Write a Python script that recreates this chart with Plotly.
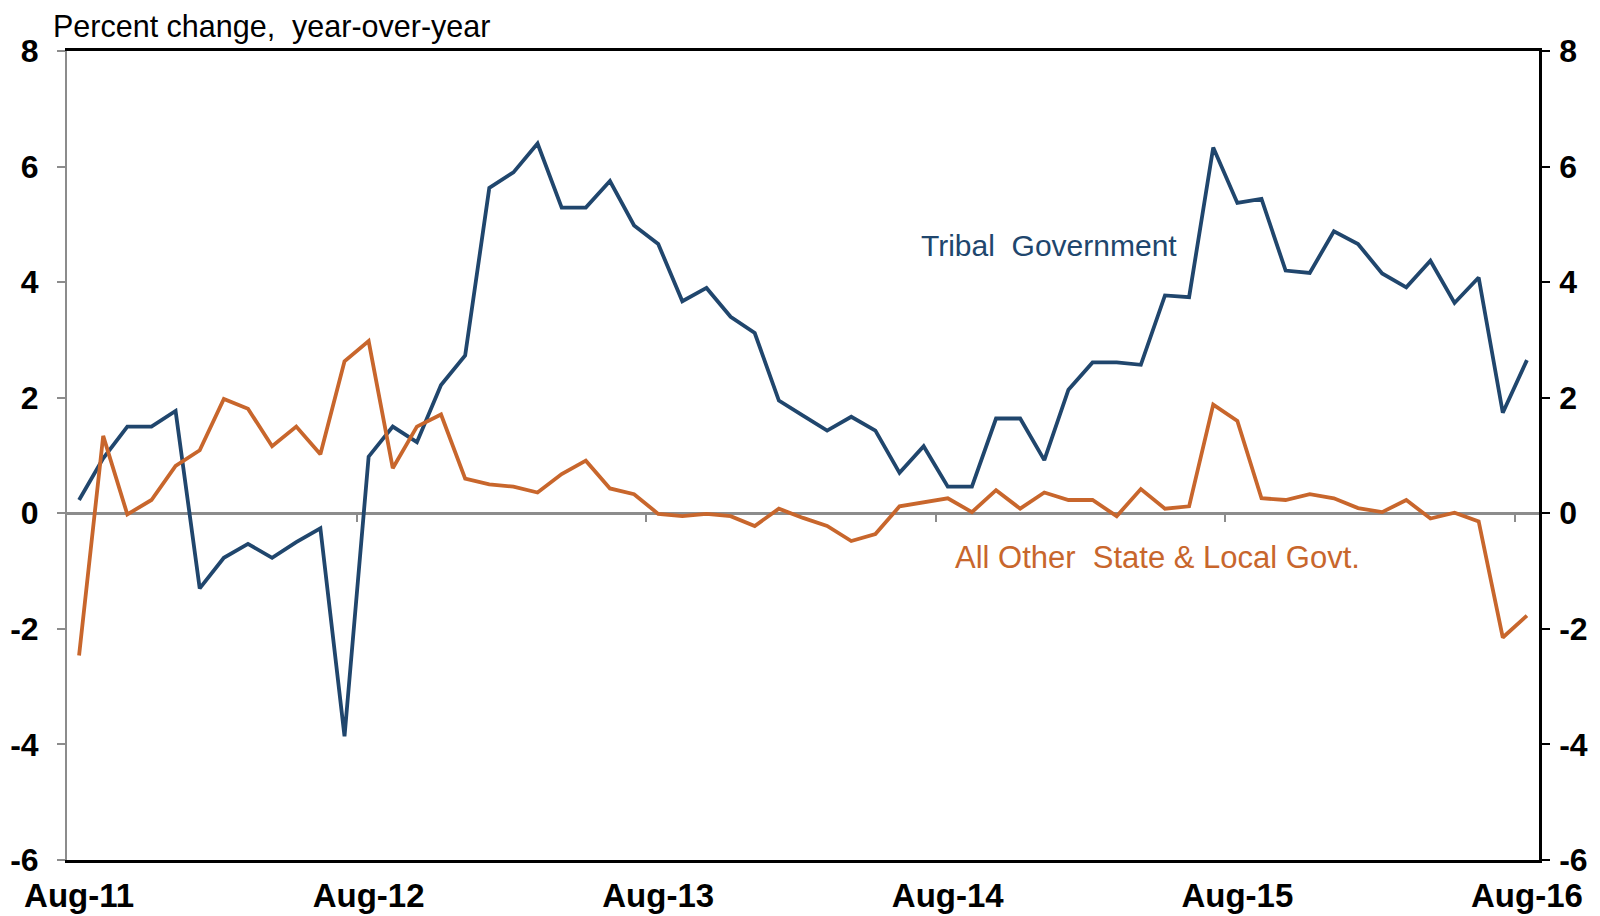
import plotly.graph_objects as go

# monthly, Aug-11 .. Aug-16 (61 months)
months = list(range(61))
tick_months = [0, 12, 24, 36, 48, 60]
tick_labels = ["Aug-11", "Aug-12", "Aug-13", "Aug-14", "Aug-15", "Aug-16"]
between_ticks = [11.5, 23.5, 35.5, 47.5, 59.5]

tribal = [
    0.23, 0.95, 1.50, 1.50, 1.77, -1.30, -0.77, -0.53, -0.77, -0.50,
    -0.26, -3.86, 0.98, 1.50, 1.23, 2.22, 2.73, 5.63, 5.90, 6.40,
    5.29, 5.29, 5.75, 4.98, 4.66, 3.67, 3.90, 3.40, 3.12, 1.95,
    1.69, 1.43, 1.67, 1.43, 0.70, 1.16, 0.46, 0.46, 1.64, 1.64,
    0.92, 2.14, 2.61, 2.61, 2.57, 3.77, 3.74, 6.33, 5.37, 5.44,
    4.20, 4.16, 4.88, 4.66, 4.15, 3.91, 4.37, 3.64, 4.08, 1.74,
    2.65,
]

other = [
    -2.46, 1.34, -0.02, 0.23, 0.82, 1.09, 1.98, 1.81, 1.16, 1.50,
    1.02, 2.63, 2.98, 0.78, 1.50, 1.71, 0.60, 0.50, 0.46, 0.36,
    0.68, 0.91, 0.43, 0.33, -0.01, -0.05, -0.01, -0.05, -0.22, 0.08,
    -0.08, -0.22, -0.48, -0.36, 0.12, 0.19, 0.26, 0.02, 0.40, 0.08,
    0.36, 0.23, 0.23, -0.05, 0.42, 0.08, 0.12, 1.88, 1.60, 0.26,
    0.23, 0.33, 0.26, 0.09, 0.02, 0.23, -0.09, 0.01, -0.14, -2.15,
    -1.77,
]

y_ticks = [-6, -4, -2, 0, 2, 4, 6, 8]
y_tick_text = ["-6", "-4", "-2", "0", "2", "4", "6", "8"]

_BLUE = "#20466D"
_ORANGE = "#C8662C"
_GREY = "#8C8C8C"
_FONT = "Liberation Sans, Arial, sans-serif"

Y_MIN, Y_MAX = -6, 8
X_RANGE = [-0.5, 60.5]

fig = go.Figure()
fig.add_trace(go.Scatter(
    x=months, y=tribal, mode="lines", name="Tribal Government",
    line=dict(color=_BLUE, width=3.8),
))
fig.add_trace(go.Scatter(
    x=months, y=other, mode="lines", name="All Other State & Local Govt.",
    line=dict(color=_ORANGE, width=3.8),
))
# invisible trace so the right-hand axis is drawn
fig.add_trace(go.Scatter(
    x=[months[0]], y=[0], yaxis="y2", mode="markers",
    marker=dict(opacity=0), showlegend=False, hoverinfo="skip",
))
# invisible trace for the tick marks hanging off the zero line
fig.add_trace(go.Scatter(
    x=[months[0]], y=[0], xaxis="x2", mode="markers",
    marker=dict(opacity=0), showlegend=False, hoverinfo="skip",
))

y_font = dict(family=_FONT, size=32, color="#000000", weight="bold")
x_font = dict(family=_FONT, size=33, color="#000000", weight="bold")

# page body has an 8px margin, so the figure is sized to end at the window edge
fig.update_layout(
    width=1592, height=908,
    paper_bgcolor="#ffffff", plot_bgcolor="#ffffff",
    margin=dict(l=59, r=61, t=43, b=56),
    showlegend=False,
    font=dict(family=_FONT, color="#000000"),
    xaxis=dict(
        range=X_RANGE, tickvals=tick_months, ticktext=tick_labels,
        tickfont=x_font, ticks="", showgrid=False, zeroline=False,
        showline=True, linecolor="#000000", linewidth=2.5, mirror=True,
        ticklabelstandoff=5, automargin=False,
    ),
    xaxis2=dict(
        range=X_RANGE, overlaying="x", anchor="free",
        position=(0 - Y_MIN) / (Y_MAX - Y_MIN),
        tickvals=between_ticks, ticks="outside", ticklen=8, tickwidth=2,
        tickcolor=_GREY, showticklabels=False, showgrid=False,
        zeroline=False, showline=False, automargin=False,
    ),
    yaxis=dict(
        range=[Y_MIN, Y_MAX], tickvals=y_ticks, ticktext=y_tick_text,
        tickfont=y_font,
        ticks="outside", ticklen=8, tickwidth=2, tickcolor=_GREY,
        showline=True, linecolor=_GREY, linewidth=2,
        showgrid=False, zeroline=True, zerolinecolor=_GREY,
        zerolinewidth=2.5, ticklabelstandoff=12, automargin=False,
    ),
    yaxis2=dict(
        range=[Y_MIN, Y_MAX], tickvals=y_ticks, ticktext=y_tick_text,
        tickfont=y_font,
        overlaying="y", side="right", anchor="x",
        ticks="outside", ticklen=8, tickwidth=2, tickcolor="#000000",
        showline=True, linecolor="#000000", linewidth=2.5,
        showgrid=False, zeroline=False, automargin=False,
        ticklabelstandoff=3,
    ),
)

fig.add_annotation(
    text="Percent change,  year-over-year", xref="paper", yref="paper",
    x=-0.011, y=1.030, xanchor="left", yanchor="middle", showarrow=False,
    font=dict(family=_FONT, size=30.5, color="#000000"),
)
fig.add_annotation(
    text="Tribal  Government", x=40.2, y=4.64, xanchor="center",
    yanchor="middle", showarrow=False,
    font=dict(family=_FONT, size=30, color=_BLUE),
)
fig.add_annotation(
    text="All Other  State & Local Govt.", x=44.7, y=-0.76, xanchor="center",
    yanchor="middle", showarrow=False,
    font=dict(family=_FONT, size=31, color=_ORANGE),
)

fig.write_html("out.html")
